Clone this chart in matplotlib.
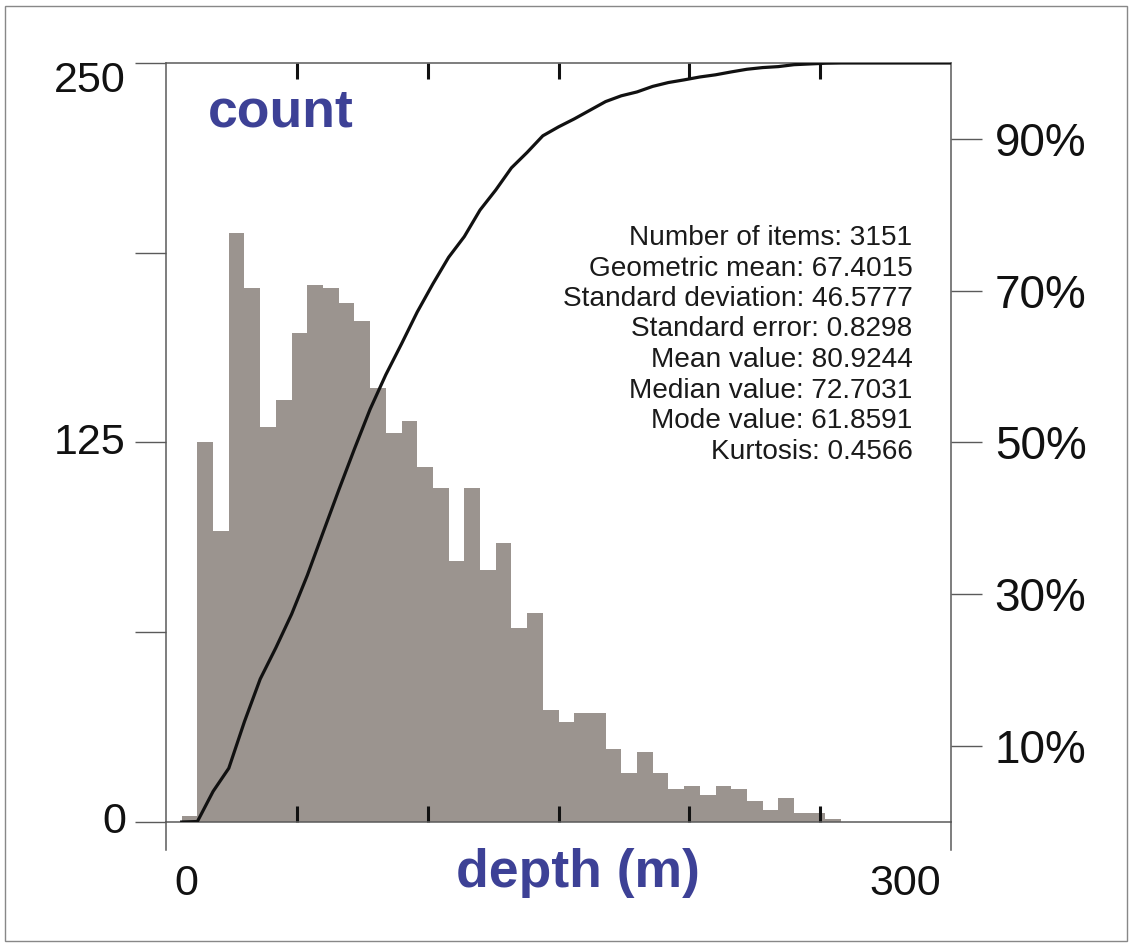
import numpy as np
import matplotlib.pyplot as plt
from matplotlib.lines import Line2D
from matplotlib.patches import Rectangle

plt.rcParams['font.family'] = ['Liberation Sans', 'DejaVu Sans']

# depth histogram, 6 m bins starting at 6 m
bin_start = 6
bin_width = 6
counts = [2, 125, 96, 194, 176, 130, 139, 161, 177, 176, 171, 165, 143, 128,
          132, 117, 110, 86, 110, 83, 92, 64, 69, 37, 33, 36, 36, 24, 16, 23,
          16, 11, 12, 9, 12, 11, 7, 4, 8, 3, 3, 1]
depth_max = 300

count_ticks = [0, 62.5, 125, 187.5, 250]
count_labels = ['0', '125', '250']
pct_ticks = [10, 30, 50, 70, 90]
depth_ticks = [50, 100, 150, 200, 250]

stats = ["Number of items: 3151",
         "Geometric mean: 67.4015",
         "Standard deviation: 46.5777",
         "Standard error: 0.8298",
         "Mean value: 80.9244",
         "Median value: 72.7031",
         "Mode value: 61.8591",
         "Kurtosis: 0.4566"]

bar_color = '#9b948f'
blue = '#3d4196'
frame = '#5a5a5a'

edges = bin_start + bin_width*np.arange(len(counts) + 1)
cum = 100*np.cumsum(counts)/np.sum(counts)
cum_x = np.concatenate([edges, [depth_max]])
cum_y = np.concatenate([[0], cum, [100]])

fig = plt.figure(figsize=(11.32, 9.47), dpi=100)
ax = fig.add_axes([166/1132, 1-822/947, 785/1132, 759/947])
# one filled step outline, so no seams between bars
ax.stairs(counts, edges, fill=True, color=bar_color, linewidth=0)
ax.set_xlim(0, depth_max)
ax.set_ylim(0, 250)

ax.set_xticks(depth_ticks)
ax.tick_params(axis='x', direction='in', top=True, bottom=True, length=11.5,
               width=2.2, color='#111111', labelbottom=False)
ax.set_yticks(count_ticks)
ax.set_yticklabels([])
ax.tick_params(axis='y', direction='out', length=22.5, width=1.0, color=frame)
for s in ax.spines.values():
    s.set_color(frame)
    s.set_linewidth(1.1)

for lab, y in zip(count_labels, [0, 125, 244]):
    ax.text(-0.051, y, lab, transform=ax.get_yaxis_transform(), ha='right',
            va='center', fontsize=31, color='#111111')

# spines run on below the x axis
for x in [0, 1]:
    ax.add_line(Line2D([x, x], [0, -28/759], transform=ax.transAxes,
                       color=frame, lw=1.1, clip_on=False))

ax2 = ax.twinx()
ax2.set_ylim(0, 100)
ax2.plot(cum_x, cum_y, color='#111111', lw=2.3)
ax2.set_yticks(pct_ticks)
ax2.set_yticklabels(['%d%%' % t for t in pct_ticks], fontsize=33,
                    color='#111111')
ax2.tick_params(axis='y', direction='out', length=22.5, width=1.0,
                color=frame, pad=9)
for s in ax2.spines.values():
    s.set_visible(False)

ax.text(0.0535, 0.9157, 'count', transform=ax.transAxes, fontsize=38.5,
        fontweight='bold', color=blue, ha='left', va='baseline')
ax.text(0.5242, -0.0856, 'depth (m)', transform=ax.transAxes, fontsize=38.5,
        fontweight='bold', color=blue, ha='center', va='baseline')
ax.text(0.0255, -0.082, '0', transform=ax.transAxes, fontsize=31,
        ha='center', va='center', color='#111111')
ax.text(0.9420, -0.082, '300', transform=ax.transAxes, fontsize=31,
        ha='center', va='center', color='#111111')

for i, line in enumerate(stats):
    ax.text(0.951, (822-245-30.5*i)/759, line, transform=ax.transAxes,
            fontsize=20.2, ha='right', va='baseline', color='#1a1a1a')

fig.add_artist(Rectangle((5/1132, 6/947), 1122/1132, 935/947,
                         transform=fig.transFigure, fill=False,
                         ec='#888888', lw=1))

fig.savefig('out.png', dpi=100)
